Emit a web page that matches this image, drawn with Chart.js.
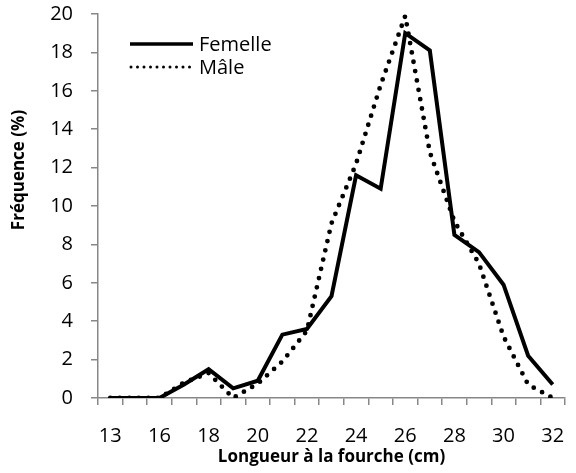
<!DOCTYPE html>
<html><head><meta charset="utf-8">
<script src="https://cdn.jsdelivr.net/npm/chart.js@4/dist/chart.umd.min.js"></script>
<style>html,body{margin:0;padding:0;background:#fff;overflow:hidden}</style>
</head><body>
<canvas id="c" width="576" height="473" style="display:block;width:576px;height:473px"></canvas>
<script>
const categories = ['13','14','16','17','18','19','20','21','22','23','24','25','26','27','28','29','30','31','32'];
const shownTickLabels = ['13','16','18','20','22','24','26','28','30','32'];
const femelle = [0,0,0,0.7,1.5,0.5,0.9,3.3,3.6,5.3,11.6,10.9,19.0,18.1,8.5,7.6,5.9,2.2,0.7];
const male    = [0,0,0,0.8,1.3,0,0.75,1.9,3.5,9.1,12.2,16.3,19.9,12.8,9.2,7.0,3.2,0.7,0];
const yTicks = [0,2,4,6,8,10,12,14,16,18,20];
const xTitle = 'Longueur à la fourche (cm)';
const yTitle = 'Fréquence (%)';
const seriesNames = ['Femelle','Mâle'];

const FONT = '"Open Sans", "Liberation Sans", sans-serif';
const AXIS = '#878787';

const overlay = {
  id: 'overlay',
  afterDraw(chart) {
    const ctx = chart.ctx;
    ctx.save();
    ctx.fillStyle = '#000';
    ctx.font = 'bold 17px ' + FONT;
    ctx.textAlign = 'center';
    ctx.textBaseline = 'middle';
    ctx.translate(19, 170);
    ctx.rotate(-Math.PI / 2);
    ctx.fillText(yTitle, 0, 0);
    ctx.restore();
    ctx.save();
    const items = chart.data.datasets;
    const ys = [44, 67];
    items.forEach((ds, i) => {
      const y = ys[i];
      ctx.beginPath();
      ctx.strokeStyle = '#000';
      if (i === 0) {
        ctx.lineWidth = 3.5; ctx.setLineDash([]); ctx.lineCap = 'butt';
        ctx.moveTo(130, y); ctx.lineTo(193, y);
      } else {
        ctx.lineWidth = 3; ctx.setLineDash([0, 6.5]); ctx.lineCap = 'round';
        ctx.moveTo(131, y); ctx.lineTo(190, y);
      }
      ctx.stroke();
      ctx.setLineDash([]);
      ctx.fillStyle = '#000';
      ctx.font = '20px ' + FONT;
      ctx.textAlign = 'left';
      ctx.textBaseline = 'middle';
      ctx.fillText(ds.label, 199, y + 1);
    });
    ctx.restore();
  }
};

function build() {
  new Chart(document.getElementById('c'), {
    type: 'line',
    data: {
      labels: categories,
      datasets: [
        { label: seriesNames[0], data: femelle, borderColor: '#000', borderWidth: 4,
          pointRadius: 0, tension: 0, borderJoinStyle: 'miter', borderCapStyle: 'butt' },
        { label: seriesNames[1], data: male, borderColor: '#000', borderWidth: 4.8,
          borderDash: [0, 9.5], borderCapStyle: 'round', pointRadius: 0, tension: 0 }
      ]
    },
    options: {
      responsive: false,
      animation: false,
      events: [],
      layout: { padding: { left: 0, top: 14, right: 11, bottom: 0 } },
      plugins: { legend: { display: false }, tooltip: { enabled: false } },
      scales: {
        x: {
          offset: true,
          grid: { offset: true, drawOnChartArea: false, drawTicks: true, tickLength: 7, color: AXIS, lineWidth: 1.5 },
          border: { display: true, color: AXIS, width: 1.5 },
          ticks: {
            autoSkip: false, maxRotation: 0, minRotation: 0, padding: 19,
            color: '#000', font: { family: FONT, size: 20 },
            callback: function(v, i) { const l = this.getLabelForValue(v); return shownTickLabels.includes(l) ? l : ''; }
          },
          title: { display: true, text: xTitle, color: '#000', font: { family: FONT, size: 17, weight: 'bold' }, padding: { top: 0, bottom: 6 } },
          afterFit(s) { s.height = 75; s.paddingLeft = 0; s.paddingRight = 0; }
        },
        y: {
          min: 0, max: 20,
          grid: { drawOnChartArea: false, drawTicks: true, tickLength: 7, color: AXIS, lineWidth: 1.5 },
          border: { display: true, color: AXIS, width: 1.5 },
          afterBuildTicks(s) { s.ticks = yTicks.map(v => ({ value: v })); },
          ticks: { padding: 18, color: '#000', font: { family: FONT, size: 20 } },
          afterFit(s) { s.width = 98; s.paddingTop = 0; s.paddingBottom = 0; }
        }
      }
    },
    plugins: [overlay]
  });
}
Promise.all([
  document.fonts.load('20px "Open Sans"'),
  document.fonts.load('bold 17px "Open Sans"')
]).then(build, build);
</script>
</body></html>
